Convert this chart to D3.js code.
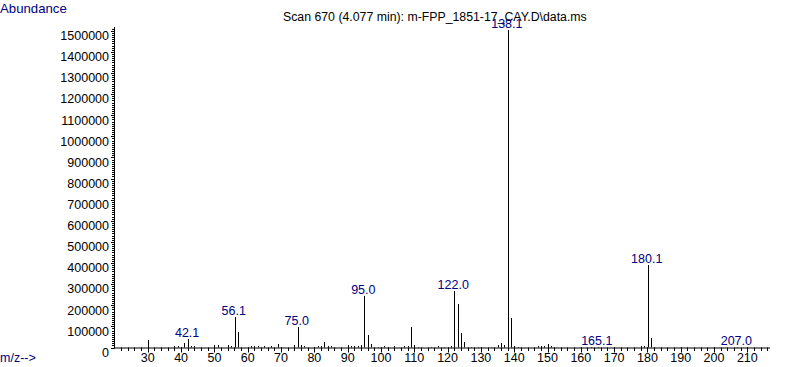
<!DOCTYPE html>
<html>
<head>
<meta charset="utf-8">
<script src="https://cdn.jsdelivr.net/npm/d3@7"></script>
<style>
  html, body { margin: 0; padding: 0; background: #fff; }
  svg { display: block; }
  text { font-family: "Liberation Sans", Arial, sans-serif; }
</style>
</head>
<body>
<svg id="chart" width="787" height="367"></svg>
<script>
// ---- data ----
const titleText = "Scan 670 (4.077 min): m-FPP_1851-17_CAY.D\\data.ms";
const yAxisTitle = "Abundance";
const xAxisTitle = "m/z-->";
const mz = [30, 38, 39, 41, 42.1, 43, 44, 50, 51, 54, 55, 56.1, 57, 61, 62, 63, 65, 67, 69,
  74, 75.0, 76, 77, 81, 82, 83, 84, 85, 90, 91, 92, 93, 94, 95.0, 96, 97, 99, 101, 102, 104,
  107, 108, 109, 110, 111, 115, 117, 119, 121, 122.0, 123, 124, 125, 127, 129, 133, 135, 136,
  137, 138.1, 139, 140, 141, 147, 148, 149, 150, 151, 152, 163, 165.1, 178, 179, 180.1, 181,
  182, 207.0];
const abundance = [36000, 6000, 8000, 20000, 42000, 9000, 6000, 13000, 13000, 12000, 6000,
  145000, 74000, 5000, 5000, 8000, 5000, 5000, 17000,
  12000, 98000, 11000, 8000, 6000, 5000, 26000, 6000, 5000, 12000, 6000, 5000, 6000, 13000,
  245000, 60000, 17000, 4000, 5000, 4000, 5000,
  5000, 6000, 98000, 10000, 4000, 4000, 5000, 4000, 5000, 268000, 207000, 70000, 24000, 4000,
  3000, 4000, 13000, 22000,
  11000, 1505000, 142000, 5000, 3000, 5000, 9000, 7000, 17000, 5000, 3000, 3000, 3000,
  6000, 6000, 391000, 47000,
  4000, 1500];
const labelledPeaks = ["42.1", "56.1", "75.0", "95.0", "122.0", "138.1", "165.1", "180.1", "207.0"];
const yTickValues = [0, 100000, 200000, 300000, 400000, 500000, 600000, 700000, 800000,
  900000, 1000000, 1100000, 1200000, 1300000, 1400000, 1500000];
const xTickValues = [30, 40, 50, 60, 70, 80, 90, 100, 110, 120, 130, 140, 150, 160, 170,
  180, 190, 200, 210];

// ---- layout ----
const svg = d3.select("#chart");
const x = d3.scaleLinear().domain([20, 216.8]).range([114.5, 770]);
const y = d3.scaleLinear().domain([0, 1518000]).range([347.5, 27]);
const navy = "#000080";
const baseY = 347.5;

// title
svg.append("text").attr("x", 283).attr("y", 21).attr("font-size", 12.3)
  .attr("fill", "#000").text(titleText);
svg.append("text").attr("x", 0).attr("y", 13).attr("font-size", 13.2)
  .attr("fill", navy).text(yAxisTitle);
svg.append("text").attr("x", 0).attr("y", 362).attr("font-size", 12.5)
  .attr("fill", navy).text(xAxisTitle);

// y axis
const gy = svg.append("g");
gy.append("line").attr("x1", 114.5).attr("x2", 114.5).attr("y1", 27).attr("y2", baseY + 0.5)
  .attr("stroke", "#000");
const yMinor = d3.range(0, 1518000, 10000);
gy.selectAll("line.minor").data(yMinor).join("line").attr("class", "minor")
  .attr("x1", 112).attr("x2", 114.5)
  .attr("y1", d => Math.round(y(d)) + 0.5).attr("y2", d => Math.round(y(d)) + 0.5)
  .attr("stroke", "#000");
gy.selectAll("line.major").data(yTickValues).join("line").attr("class", "major")
  .attr("x1", 111).attr("x2", 114.5)
  .attr("y1", d => Math.round(y(d)) + 0.5).attr("y2", d => Math.round(y(d)) + 0.5)
  .attr("stroke", "#000");
gy.selectAll("text").data(yTickValues).join("text")
  .attr("x", 109).attr("y", d => y(d) + 9.3).attr("text-anchor", "end")
  .attr("font-size", 12.5).attr("fill", "#000").text(d => d);

// x axis
const gx = svg.append("g");
gx.append("line").attr("x1", 114).attr("x2", 770).attr("y1", baseY + 0.5).attr("y2", baseY + 0.5)
  .attr("stroke", "#000");
const xMinor = d3.range(22, 217, 2);
gx.selectAll("line.minor").data(xMinor).join("line").attr("class", "minor")
  .attr("x1", d => Math.round(x(d)) + 0.5).attr("x2", d => Math.round(x(d)) + 0.5)
  .attr("y1", baseY).attr("y2", baseY + 3.5).attr("stroke", "#000");
gx.selectAll("line.major").data(xTickValues).join("line").attr("class", "major")
  .attr("x1", d => Math.round(x(d)) + 0.5).attr("x2", d => Math.round(x(d)) + 0.5)
  .attr("y1", baseY).attr("y2", baseY + 5).attr("stroke", "#000");
gx.selectAll("text").data(xTickValues).join("text")
  .attr("x", d => x(d)).attr("y", 362).attr("text-anchor", "middle")
  .attr("font-size", 12.5).attr("fill", "#000").text(d => d);

// peaks
const peaks = mz.map((m, i) => ({ m, v: abundance[i] }));
svg.append("g").selectAll("line").data(peaks).join("line")
  .attr("x1", d => Math.round(x(d.m)) + 0.5).attr("x2", d => Math.round(x(d.m)) + 0.5)
  .attr("y1", baseY).attr("y2", d => Math.round(y(d.v)))
  .attr("stroke", "#000");

// peak labels
svg.append("g").selectAll("text")
  .data(peaks.filter(d => labelledPeaks.includes(d.m.toFixed(1))))
  .join("text")
  .attr("x", d => x(d.m) - 1).attr("y", d => y(d.v) - 2)
  .attr("text-anchor", "middle").attr("font-size", 12.5).attr("fill", navy)
  .text(d => d.m.toFixed(1));
</script>
</body>
</html>
